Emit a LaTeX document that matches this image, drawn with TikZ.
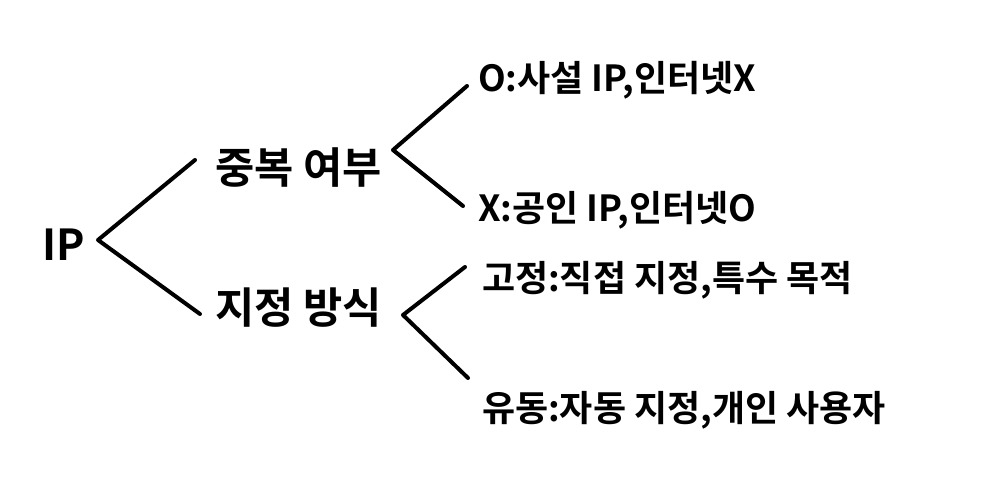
\documentclass[tikz,border=0pt]{standalone}
\usepackage{fontspec}
\setmainfont{Noto Sans CJK KR}[BoldFont={Noto Sans CJK KR Bold}]
\tikzset{every picture/.style={line width=3pt}}
\tikzset{
	branch/.style={line width=3pt, line cap=round, line join=round},
	topic/.style={font=\bfseries\fontsize{32}{36}\selectfont, inner sep=0pt, anchor=west},
	leaf/.style={font=\bfseries\fontsize{27}{32}\selectfont, inner sep=0pt, anchor=west}}

\begin{document}
\begin{tikzpicture}[x=0.75pt,y=0.75pt,yscale=-1,xscale=1]
	\useasboundingbox (0,0) rectangle (993,502);

	% Text Node
	\node [topic] (ip) at (40,245) {IP};
	% Text Node
	\node [topic] (dup) at (213,168) {중복 여부};
	% Text Node
	\node [topic] (assign) at (213,308) {지정 방식};
	% Text Node
	\node [leaf] (priv) at (476,80) {O:사설 IP,인터넷X};
	% Text Node
	\node [leaf] (pub) at (476,210) {X:공인 IP,인터넷O};
	% Text Node
	\node [leaf] (fixed) at (480,280) {고정:직접 지정,특수 목적};
	% Text Node
	\node [leaf] (dyn) at (480,410) {유동:자동 지정,개인 사용자};

	% fork points and line ends
	\coordinate (ipfork) at (98,240);
	\coordinate (dupin) at (195,160);
	\coordinate (assignin) at (200,314);
	\coordinate (dupfork) at (393,150);
	\coordinate (privin) at (467,86);
	\coordinate (pubin) at (463,206);
	\coordinate (assignfork) at (403,315);
	\coordinate (fixedin) at (465,267);
	\coordinate (dynin) at (468,378);

	%Straight Lines
	\draw [branch] (dupin) -- (ipfork) -- (assignin);
	%Straight Lines
	\draw [branch] (privin) -- (dupfork) -- (pubin);
	%Straight Lines
	\draw [branch] (fixedin) -- (assignfork) -- (dynin);

\end{tikzpicture}
\end{document}
